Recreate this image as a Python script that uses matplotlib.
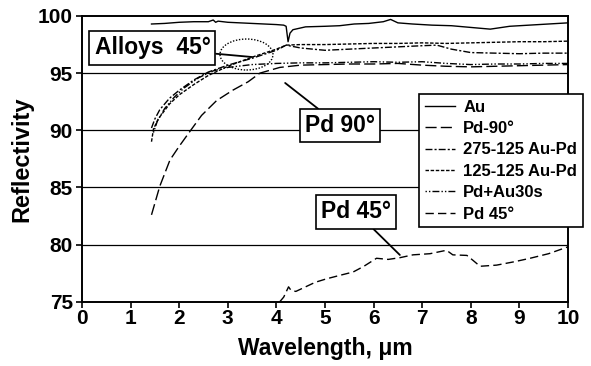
import matplotlib
matplotlib.use("Agg")
import matplotlib.pyplot as plt
from matplotlib.patches import Ellipse

# ---------------- data ----------------
au_x = [1.43, 1.7, 2.0, 2.3, 2.6, 2.7, 2.75, 2.8, 3.0, 3.5, 4.0, 4.15, 4.2, 4.24, 4.28, 4.34,
        4.6, 5.0, 5.3, 5.6, 5.9, 6.2, 6.35, 6.5, 6.8, 7.2, 7.6, 8.0, 8.4, 8.8, 9.2, 9.6, 10.0]
au_y = [99.30, 99.35, 99.45, 99.5, 99.5, 99.65, 99.45, 99.55, 99.45, 99.35, 99.25, 99.2, 99.1,
        97.75, 98.5, 98.8, 99.05, 99.1, 99.15, 99.3, 99.35, 99.5, 99.7, 99.4, 99.3, 99.2, 99.15,
        99.0, 98.85, 99.1, 99.2, 99.3, 99.4]

pd90_x = [1.43, 1.6, 1.81, 2.0, 2.22, 2.46, 2.77, 3.1, 3.42, 3.66, 4.07, 4.5, 5.0, 5.5, 6.0,
          6.5, 7.0, 7.5, 8.0, 8.5, 9.0, 9.5, 10.0]
pd90_y = [82.6, 85.1, 87.4, 88.6, 89.9, 91.3, 92.6, 93.5, 94.25, 95.0, 95.5, 95.7, 95.75, 95.8,
          95.8, 95.85, 95.7, 95.6, 95.55, 95.6, 95.65, 95.7, 95.75]

a275_x = [1.43, 1.5, 1.6, 1.8, 2.0, 2.3, 2.6, 3.0, 3.5, 4.0, 4.2, 4.5, 5.0, 5.5, 6.0, 6.5, 7.0,
          7.3, 7.6, 8.0, 8.5, 9.0, 9.5, 10.0]
a275_y = [90.2, 91.0, 91.8, 92.8, 93.5, 94.4, 95.1, 95.7, 96.3, 97.0, 97.45, 97.2, 97.0, 97.1,
          97.2, 97.3, 97.4, 97.45, 97.1, 96.8, 96.75, 96.7, 96.75, 96.75]

a125_x = [1.43, 1.47, 1.57, 1.8, 2.0, 2.3, 2.6, 3.0, 3.5, 4.0, 4.2, 4.5, 5.0, 5.5, 6.0, 6.5,
          7.0, 7.5, 8.0, 8.5, 9.0, 9.5, 10.0]
a125_y = [89.0, 90.1, 91.0, 92.3, 93.1, 94.0, 94.8, 95.6, 96.4, 97.1, 97.45, 97.5, 97.5, 97.55,
          97.6, 97.6, 97.65, 97.6, 97.65, 97.7, 97.75, 97.75, 97.8]

pdau_x = [1.47, 1.55, 1.7, 1.9, 2.1, 2.4, 2.7, 3.0, 3.5, 4.0, 4.5, 5.0, 5.5, 6.0, 6.5, 7.0,
          7.5, 8.0, 8.5, 9.0, 9.5, 10.0]
pdau_y = [89.8, 90.8, 91.9, 92.9, 93.7, 94.6, 95.2, 95.5, 95.75, 95.85, 95.9, 95.9, 95.95, 96.0,
          95.95, 96.0, 95.85, 95.75, 95.8, 95.8, 95.85, 95.85]

pd45_x = [4.07, 4.15, 4.25, 4.3, 4.4, 4.6, 4.8, 5.03, 5.3, 5.58, 5.8, 6.06, 6.3, 6.54, 6.81,
          7.16, 7.5, 7.63, 7.92, 8.05, 8.19, 8.53, 8.9, 9.22, 9.6, 10.0]
pd45_y = [75.0, 75.4, 76.3, 76.0, 75.9, 76.3, 76.7, 77.0, 77.3, 77.6, 78.1, 78.8, 78.7, 78.85,
          79.1, 79.2, 79.5, 79.1, 79.05, 78.6, 78.1, 78.2, 78.5, 78.8, 79.2, 79.8]

labels = ["Au", "Pd-90\u00b0", "275-125 Au-Pd", "125-125 Au-Pd", "Pd+Au30s", "Pd 45\u00b0"]
x_ticks = list(range(0, 11))
y_ticks = [75, 80, 85, 90, 95, 100]
grid_y = [80, 85, 90, 95]

# ---------------- styling ----------------
plt.rcParams['font.family'] = ['Liberation Sans', 'DejaVu Sans']
plt.rcParams['font.weight'] = 'bold'

fig = plt.figure(figsize=(5.91, 3.66), dpi=100)
W, H = 591, 366
ax = fig.add_axes([82 / W, 1 - 301.7 / H, (568 - 82) / W, (301.7 - 16) / H])

for g in grid_y:
    ax.axhline(g, color='black', lw=0.9, zorder=1)

lw = 1.0
ax.plot(au_x, au_y, color='black', lw=lw, ls='-', label=labels[0], zorder=3)
ax.plot(pd90_x, pd90_y, color='black', lw=lw, ls=(0, (8, 3)), label=labels[1], zorder=3)
ax.plot(a275_x, a275_y, color='black', lw=lw, ls=(0, (5, 1.5, 1.5, 1.5)), label=labels[2], zorder=3)
ax.plot(a125_x, a125_y, color='black', lw=lw, ls=(0, (2.5, 1.2)), label=labels[3], zorder=3)
ax.plot(pdau_x, pdau_y, color='black', lw=lw, ls=(0, (1, 1.5, 1, 1.5, 5, 1.5)), label=labels[4], zorder=3)
ax.plot(pd45_x, pd45_y, color='black', lw=lw, ls=(0, (6, 3)), label=labels[5], zorder=3)

ax.set_xlim(0, 10)
ax.set_ylim(75, 100)
ax.set_xticks(x_ticks)
ax.set_yticks(y_ticks)
ax.tick_params(axis='both', direction='out', length=4, width=1.2, labelsize=15, pad=1.0)
ax.tick_params(axis='y', pad=2.5)
for lab in ax.get_xticklabels() + ax.get_yticklabels():
    lab.set_fontweight('bold')
for s in ax.spines.values():
    s.set_linewidth(1.4)

ax.set_xlabel("Wavelength, \u03bcm", fontsize=16.5, fontweight='bold', labelpad=7)
ax.set_ylabel("Reflectivity", fontsize=17, fontweight='bold', labelpad=3)

leg = ax.legend(loc='upper left', bbox_to_anchor=(419 / W, 1 - 94 / H),
                bbox_transform=fig.transFigure, borderaxespad=0, frameon=True,
                fancybox=False, edgecolor='black', framealpha=1,
                prop={'size': 12, 'weight': 'bold'}, handlelength=1.8,
                handletextpad=0.5, labelspacing=0.38, borderpad=0.35)
leg.get_frame().set_linewidth(1.2)
leg.set_zorder(10)

box = dict(boxstyle='square,pad=0.22', fc='white', ec='black', lw=1.2)
fs_ann = 16.5
ax.annotate("Alloys  45\u00b0", xy=(3.50, 96.41), xytext=(1.45, 97.2),
            fontsize=fs_ann, fontweight='bold', ha='center', va='center', bbox=box,
            arrowprops=dict(arrowstyle='-', color='black', lw=1.3, shrinkA=0, shrinkB=0),
            zorder=6)
ax.annotate("Pd 90\u00b0", xy=(4.18, 94.14), xytext=(5.31, 90.38),
            fontsize=fs_ann, fontweight='bold', ha='center', va='center', bbox=box,
            arrowprops=dict(arrowstyle='-', color='black', lw=1.3, shrinkA=0, shrinkB=0),
            zorder=6)
ax.annotate("Pd 45\u00b0", xy=(6.54, 79.09), xytext=(5.64, 82.85),
            fontsize=fs_ann, fontweight='bold', ha='center', va='center', bbox=box,
            arrowprops=dict(arrowstyle='-', color='black', lw=1.3, shrinkA=0, shrinkB=0),
            zorder=6)

ax.add_patch(Ellipse((3.385, 96.63), 1.09, 2.71, fill=False, ec='black', lw=1.0,
                     ls=(0, (1, 1.2)), zorder=4))

fig.savefig("out.png", dpi=100)
